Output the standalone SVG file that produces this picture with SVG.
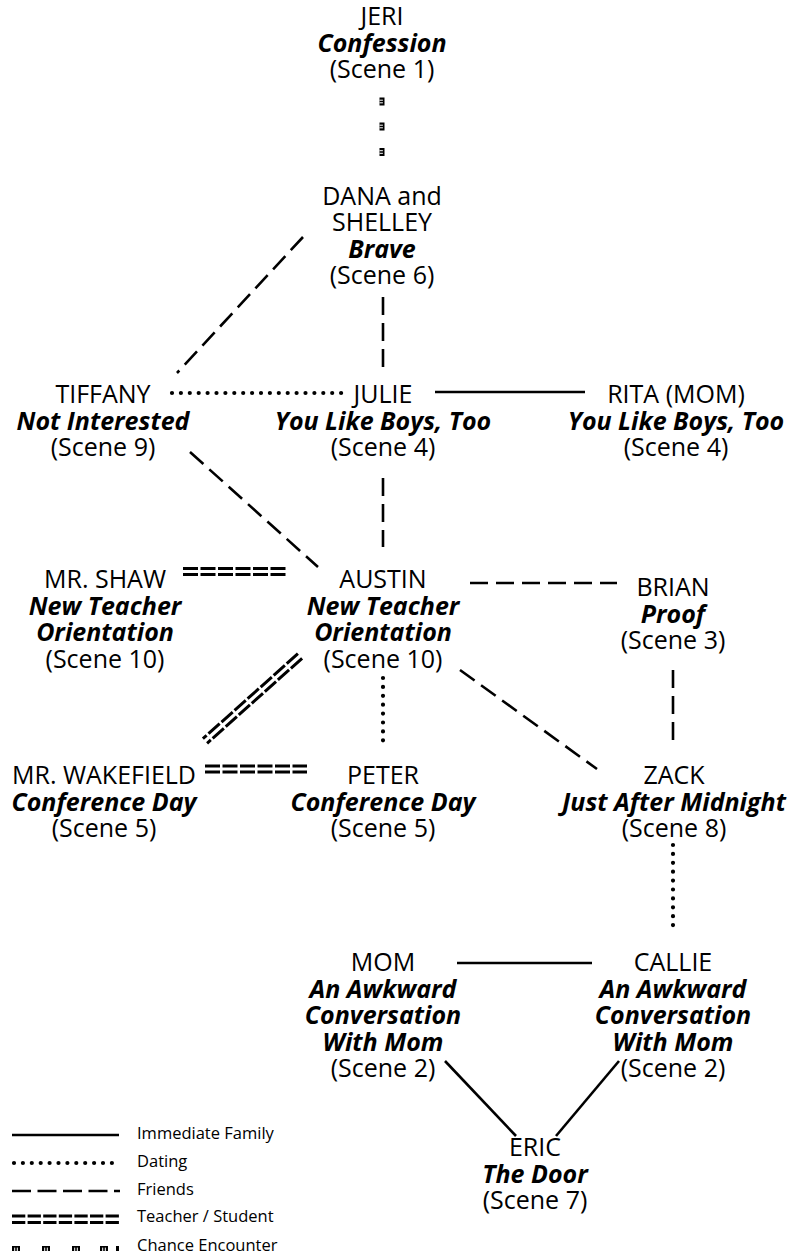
<svg xmlns="http://www.w3.org/2000/svg" width="795" height="1260" viewBox="0 0 795 1260">
<style>
.t{font-family:"Open Sans","Liberation Sans",sans-serif;font-size:25px;text-anchor:middle;fill:#000}
.b{font-weight:bold;font-style:italic}
.lg{font-family:"Open Sans","Liberation Sans",sans-serif;font-size:16.5px;fill:#000}
.fr{stroke:#000;stroke-width:2.6;stroke-dasharray:18 8;fill:none}
.dt{stroke:#000;stroke-width:4.2;stroke-linecap:round;stroke-dasharray:0 8.9;fill:none}
.fam{stroke:#000;stroke-width:2.6;fill:none}
.ts{stroke:#000;stroke-width:3;stroke-dasharray:15 2.5;fill:none}
</style>
<defs>
<g id="ce">
<rect x="0" y="0" width="8" height="5" fill="#000"/>
<rect x="2.2" y="1.6" width="1" height="3.4" fill="#fff"/>
<rect x="4.8" y="1.6" width="1" height="3.4" fill="#fff"/>
</g>
</defs>
<rect width="795" height="1260" fill="#fff"/>
<g id="connectors">
<g transform="translate(384.5,97.5) rotate(90)"><use href="#ce"/></g>
<g transform="translate(384.5,122.5) rotate(90)"><use href="#ce"/></g>
<g transform="translate(384.5,148) rotate(90)"><use href="#ce"/></g>
<line class="fr" x1="303" y1="237" x2="177" y2="373"/>
<line class="fr" x1="383" y1="297" x2="383" y2="367"/>
<line class="dt" x1="172" y1="393" x2="342" y2="393"/>
<line class="fam" x1="435" y1="392" x2="585" y2="392"/>
<line class="fr" x1="383" y1="478" x2="383" y2="547"/>
<line class="fr" x1="190" y1="452" x2="318" y2="567"/>
<line class="ts" x1="183" y1="568.5" x2="286" y2="568.5"/>
<line class="ts" x1="183" y1="574.5" x2="286" y2="574.5"/>
<line class="fr" x1="470" y1="583" x2="617" y2="583"/>
<line class="ts" x1="302.1" y1="658.3" x2="207.1" y2="743.3"/>
<line class="ts" x1="297.9" y1="653.7" x2="202.9" y2="738.7"/>
<line class="dt" x1="383" y1="678" x2="383" y2="749"/>
<line class="fr" x1="460" y1="670" x2="597" y2="769"/>
<line class="fr" x1="673" y1="670" x2="673" y2="742"/>
<line class="ts" x1="205" y1="766" x2="307" y2="766"/>
<line class="ts" x1="205" y1="772" x2="307" y2="772"/>
<line class="dt" x1="673" y1="845" x2="673" y2="926"/>
<line class="fam" x1="457" y1="963" x2="592" y2="963"/>
<line class="fam" x1="445" y1="1061" x2="516" y2="1136"/>
<line class="fam" x1="619" y1="1061" x2="556" y2="1136"/>
</g>
<g id="jeri"><text class="t" x="382" y="25">JERI<tspan class="b" x="382" dy="26.5">Confession</tspan><tspan x="382" dy="26.5">(Scene 1)</tspan></text></g>
<g id="dana"><text class="t" x="382" y="204.5">DANA and<tspan x="382" dy="26.5">SHELLEY</tspan><tspan class="b" x="382" dy="26.5">Brave</tspan><tspan x="382" dy="26.5">(Scene 6)</tspan></text></g>
<g id="tiffany"><text class="t" x="103" y="403">TIFFANY<tspan class="b" x="103" dy="26.5">Not Interested</tspan><tspan x="103" dy="26.5">(Scene 9)</tspan></text></g>
<g id="julie"><text class="t" x="383" y="403">JULIE<tspan class="b" x="383" dy="26.5">You Like Boys, Too</tspan><tspan x="383" dy="26.5">(Scene 4)</tspan></text></g>
<g id="rita"><text class="t" x="676" y="403">RITA (MOM)<tspan class="b" x="676" dy="26.5">You Like Boys, Too</tspan><tspan x="676" dy="26.5">(Scene 4)</tspan></text></g>
<g id="shaw"><text class="t" x="105" y="588">MR. SHAW<tspan class="b" x="105" dy="26.5">New Teacher</tspan><tspan class="b" x="105" dy="26.5">Orientation</tspan><tspan x="105" dy="26.5">(Scene 10)</tspan></text></g>
<g id="austin"><text class="t" x="383" y="588">AUSTIN<tspan class="b" x="383" dy="26.5">New Teacher</tspan><tspan class="b" x="383" dy="26.5">Orientation</tspan><tspan x="383" dy="26.5">(Scene 10)</tspan></text></g>
<g id="brian"><text class="t" x="673" y="596">BRIAN<tspan class="b" x="673" dy="26.5">Proof</tspan><tspan x="673" dy="26.5">(Scene 3)</tspan></text></g>
<g id="wakefield"><text class="t" x="104" y="784">MR. WAKEFIELD<tspan class="b" x="104" dy="26.5">Conference Day</tspan><tspan x="104" dy="26.5">(Scene 5)</tspan></text></g>
<g id="peter"><text class="t" x="383" y="784">PETER<tspan class="b" x="383" dy="26.5">Conference Day</tspan><tspan x="383" dy="26.5">(Scene 5)</tspan></text></g>
<g id="zack"><text class="t" x="674" y="784">ZACK<tspan class="b" x="674" dy="26.5">Just After Midnight</tspan><tspan x="674" dy="26.5">(Scene 8)</tspan></text></g>
<g id="mom"><text class="t" x="383" y="971">MOM<tspan class="b" x="383" dy="26.5">An Awkward</tspan><tspan class="b" x="383" dy="26.5">Conversation</tspan><tspan class="b" x="383" dy="26.5">With Mom</tspan><tspan x="383" dy="26.5">(Scene 2)</tspan></text></g>
<g id="callie"><text class="t" x="673" y="971">CALLIE<tspan class="b" x="673" dy="26.5">An Awkward</tspan><tspan class="b" x="673" dy="26.5">Conversation</tspan><tspan class="b" x="673" dy="26.5">With Mom</tspan><tspan x="673" dy="26.5">(Scene 2)</tspan></text></g>
<g id="eric"><text class="t" x="535" y="1156">ERIC<tspan class="b" x="535" dy="26.5">The Door</tspan><tspan x="535" dy="26.5">(Scene 7)</tspan></text></g>
<g id="legend">
<line class="fam" x1="12" y1="1135" x2="119" y2="1135"/>
<line class="dt" x1="14" y1="1163" x2="117" y2="1163"/>
<line class="fr" x1="12" y1="1191" x2="120" y2="1191" style="stroke-dasharray:19 6.5"/>
<line class="ts" x1="12" y1="1216" x2="119" y2="1216" style="stroke-dasharray:13.3 2.3"/>
<line class="ts" x1="12" y1="1222.5" x2="119" y2="1222.5" style="stroke-dasharray:13.3 2.3"/>
<use href="#ce" x="12" y="1246"/>
<use href="#ce" x="42" y="1246"/>
<use href="#ce" x="72" y="1246"/>
<use href="#ce" x="100" y="1246"/>
<rect x="116" y="1246" width="3" height="5" fill="#000"/>
<text class="lg" x="137" y="1139">Immediate Family</text>
<text class="lg" x="137" y="1167">Dating</text>
<text class="lg" x="137" y="1195">Friends</text>
<text class="lg" x="137" y="1222">Teacher / Student</text>
<text class="lg" x="137" y="1251">Chance Encounter</text>
</g>
</svg>
